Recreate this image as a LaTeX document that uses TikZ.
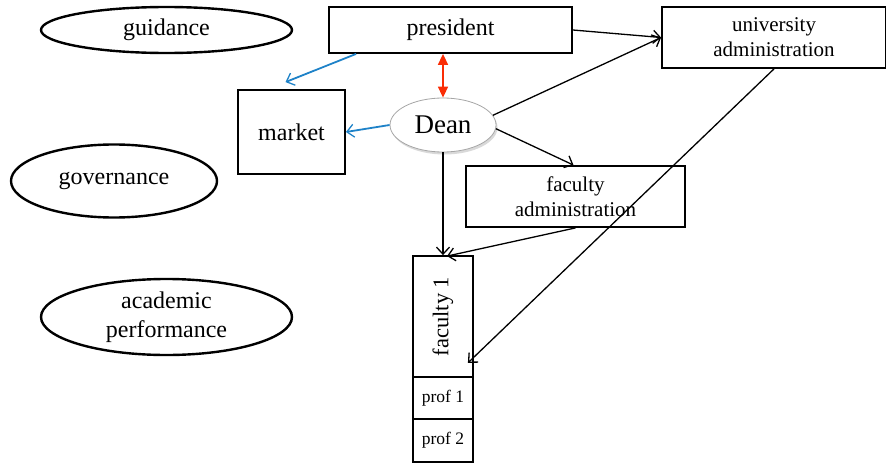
\documentclass[tikz,border=0pt]{standalone}
\usepackage{fontspec}
\setmainfont{Liberation Serif}
\usetikzlibrary{arrows.meta,shapes.geometric,shadows,calc}
\definecolor{redarr}{RGB}{250,45,5}
\definecolor{bluearr}{RGB}{30,130,200}
\tikzset{
  box/.style={draw,line width=1.8pt,inner sep=0pt,align=center,font=\fontsize{24}{28}\selectfont},
  oval/.style={ellipse,draw,line width=2.4pt,inner sep=0pt,align=center,font=\fontsize{24}{29}\selectfont},
  conn/.style={line width=1.3pt,-{Straight Barb[length=7pt,width=13pt,line width=1.3pt]}},
  blueconn/.style={conn,draw=bluearr,line width=1.8pt},
  redconn/.style={draw=redarr,line width=1.6pt,{Triangle[length=11pt,width=10pt]}-{Triangle[length=11pt,width=10pt]}},
}
\begin{document}
\begin{tikzpicture}[x=1pt,y=-1pt]
\useasboundingbox (0,0) rectangle (886,463);
% ellipses
\node[oval,minimum width=251,minimum height=46] (guid) at (166.5,30) {guidance};
\node[oval,minimum width=206,minimum height=73] (gov) at (114,181) {governance};
\node[oval,minimum width=251,minimum height=76] (acad) at (166.5,317) {academic\\performance};
% boxes
\node[box,minimum width=243,minimum height=46] (pres) at (450.5,30) {president};
\node[box,minimum width=224,minimum height=61,font=\fontsize{21}{25}\selectfont] (univ) at (774,37.5) {university\\administration};
\node[box,minimum width=107,minimum height=84] (market) at (291.5,132) {market};
\node[box,minimum width=219,minimum height=61,font=\fontsize{21}{25}\selectfont] (facadm) at (575.5,196.5) {faculty\\administration};
\node[ellipse,draw=gray!70,line width=0.8pt,fill=white,minimum width=106,minimum height=54,inner sep=0pt,
      drop shadow={shadow xshift=1.5pt,shadow yshift=-2.5pt,opacity=0.3,fill=gray},
      font=\fontsize{27}{30}\selectfont] (dean) at (443,125) {Dean};
\node[box,minimum width=60,minimum height=121,font=\fontsize{22.5}{26}\selectfont] (fac1) at (443,316.5) {\rotatebox{90}{faculty 1}};
\node[box,minimum width=60,minimum height=42,font=\fontsize{17.5}{20}\selectfont] (prof1) at (443,398) {prof 1};
\node[box,minimum width=60,minimum height=43,font=\fontsize{17.5}{20}\selectfont] (prof2) at (443,440.5) {prof 2};
% connectors
\draw[conn] (pres.east) -- (univ.west);
\draw[conn] (dean.11) -- (univ.west);
\draw[conn] (dean.-4) -- ([xshift=-2pt]facadm.north);
\draw[conn] (dean.south) -- (fac1.north);
\draw[conn] (facadm.south) -- ([xshift=4pt,yshift=-1pt]fac1.north);
\draw[conn] (univ.south) -- ([xshift=-6pt,yshift=15pt]fac1.south east);
\draw[blueconn] ([xshift=28pt]pres.south west) -- ([xshift=-6pt,yshift=7pt]market.north);
\draw[blueconn] (dean.west) -- (market.east);
\draw[redconn] (dean.north) -- (dean.north |- pres.south);
\end{tikzpicture}
\end{document}
